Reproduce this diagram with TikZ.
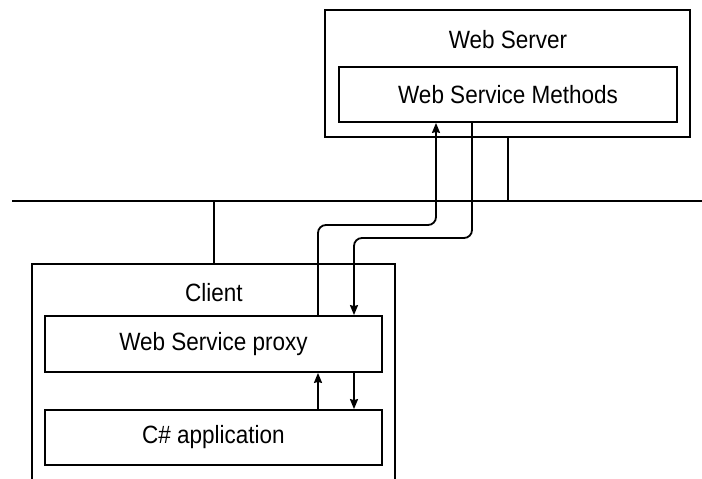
\documentclass[tikz,border=0pt]{standalone}
\usepackage{fontspec}
\setmainfont{Liberation Sans}[FakeStretch=0.9]
\usetikzlibrary{arrows.meta}
\begin{document}
\begin{tikzpicture}[x=1pt,y=-1pt,
  box/.style={draw, line width=1.8pt, inner sep=0pt, rectangle},
  lbl/.style={inner sep=0pt, font=\fontsize{25}{28}\selectfont},
  conn/.style={line width=1.8pt},
  arr/.style={line width=1.8pt, rounded corners=8pt, -{Stealth[length=10pt,width=8pt,inset=1pt]}}]
\useasboundingbox (0,0) rectangle (702,479);
\clip (0,0) rectangle (702,479);
% web server
\node[box, minimum width=365pt, minimum height=127pt] (server) at (507.5,73.5) {};
\node[lbl] (serverlbl) at (508,40) {Web Server};
\node[box, minimum width=338pt, minimum height=55pt, font=\fontsize{25}{28}\selectfont] (wsm) at (508,94.5) {Web Service Methods};
% client
\node[box, minimum width=363pt, minimum height=240pt] (client) at (213.5,384) {};
\node[lbl] (clientlbl) at (214,293) {Client};
\node[box, minimum width=337pt, minimum height=56pt, font=\fontsize{25}{28}\selectfont] (proxy) at (213.5,344) {Web Service proxy};
\node[box, minimum width=337pt, minimum height=55pt, font=\fontsize{25}{28}\selectfont] (app) at (213.5,437.5) {C\# application};
% network
\coordinate (netL) at (12,201);
\coordinate (netR) at (702,201);
\draw[line width=2.4pt] (netL) -- (netR);
\coordinate (stie) at (508,201);
\coordinate (ctie) at (214,201);
\draw[conn] (server.south -| stie) -- (stie);
\draw[conn] (ctie) -- (client.north -| ctie);
% request / response paths
\coordinate (up) at (318,225);
\coordinate (upr) at (436,225);
\draw[arr] (proxy.north -| up) -- (up) -- (upr) -- (wsm.south -| upr);
\coordinate (dnr) at (472,238);
\coordinate (dn) at (354,238);
\draw[arr] (wsm.south -| dnr) -- (dnr) -- (dn) -- (proxy.north -| dn);
% proxy <-> application
\draw[arr] (app.north -| up) -- (proxy.south -| up);
\draw[arr] (proxy.south -| dn) -- (app.north -| dn);
\end{tikzpicture}
\end{document}
